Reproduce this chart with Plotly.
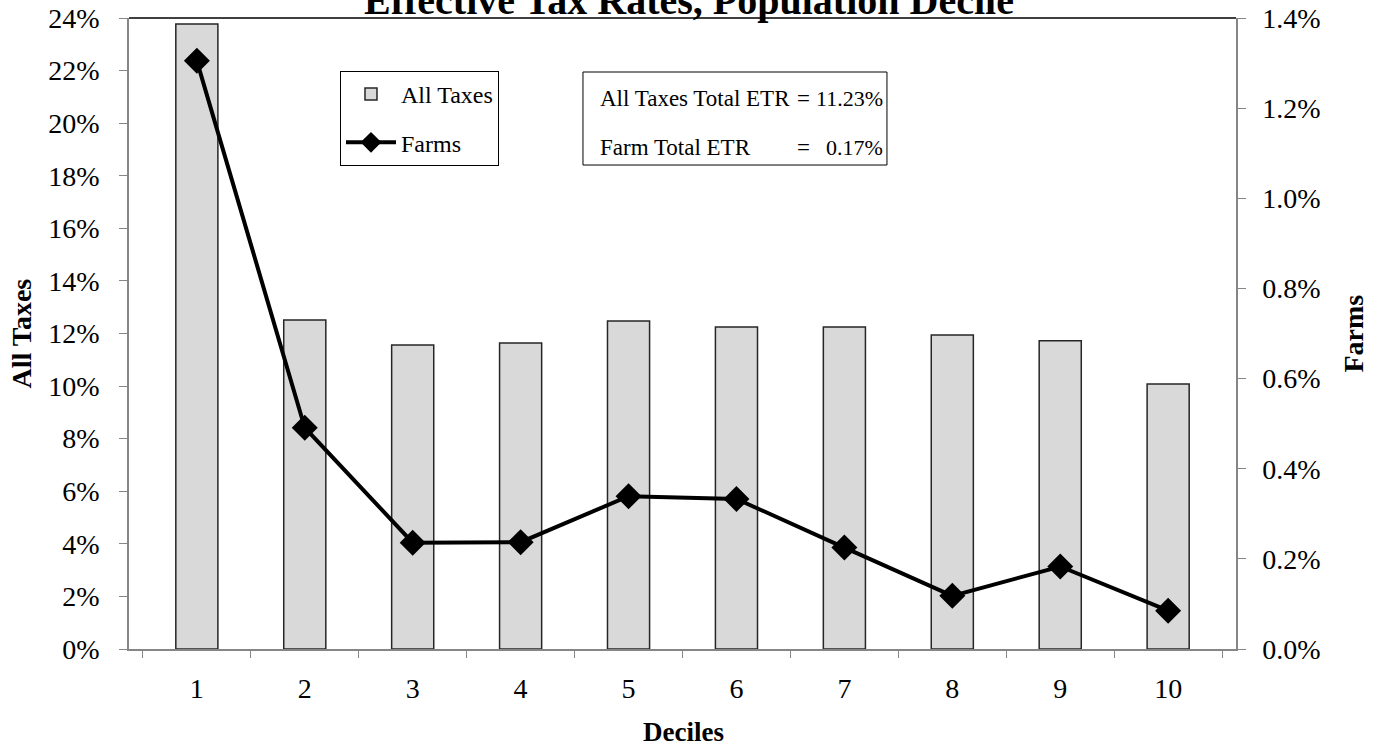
import plotly.graph_objects as go

# data
deciles = ["1", "2", "3", "4", "5", "6", "7", "8", "9", "10"]
all_taxes = [0.2377, 0.1251, 0.1156, 0.1164, 0.1248, 0.1225, 0.1225, 0.1194, 0.1172, 0.1008]
farms = [0.01305, 0.00491, 0.00236, 0.00237, 0.00339, 0.00333, 0.00225, 0.00118, 0.00183, 0.00085]

all_taxes_total = "11.23%"
farm_total = "0.17%"

FONT = "Liberation Serif"
AXIS_GREY = "#868686"

fig = go.Figure()

fig.add_trace(go.Bar(
    x=deciles, y=all_taxes, name="All Taxes", width=0.39,
    marker=dict(color="#d9d9d9", line=dict(color="#262626", width=1.5)),
    legendgroup="a",
))
fig.add_trace(go.Scatter(
    x=deciles, y=farms, name="Farms", yaxis="y2", mode="lines+markers",
    line=dict(color="black", width=4),
    marker=dict(symbol="diamond", size=20, color="black"),
    legendgroup="b",
))

fig.update_layout(
    width=1380, height=749,
    margin=dict(l=129, r=144, t=18, b=100),
    plot_bgcolor="white", paper_bgcolor="white",
    font=dict(family=FONT, size=28, color="black"),
    showlegend=True,
    legend=dict(
        x=0.1906, y=0.916, xanchor="left", yanchor="top",
        bordercolor="black", borderwidth=1, bgcolor="white",
        font=dict(family=FONT, size=24),
        traceorder="grouped", tracegroupgap=14,
        itemwidth=50, entrywidth=135,
    ),
    xaxis=dict(
        type="category", tickson="boundaries", ticks="outside", ticklen=7,
        tickcolor=AXIS_GREY, showline=True, linecolor=AXIS_GREY, linewidth=1.5,
        showgrid=False, ticklabelstandoff=14, automargin=False,
    ),
    yaxis=dict(
        range=[0, 0.24], dtick=0.02, tickformat=".0%", ticks="outside", ticklen=8,
        tickcolor=AXIS_GREY, showline=True, linecolor=AXIS_GREY, linewidth=1.5,
        showgrid=False, zeroline=False, ticklabelstandoff=14, automargin=False,
    ),
    yaxis2=dict(
        range=[0, 0.014], dtick=0.002, tickformat=".1%", ticks="outside", ticklen=8,
        tickcolor=AXIS_GREY, showline=True, linecolor=AXIS_GREY, linewidth=1.5,
        showgrid=False, zeroline=False, overlaying="y", side="right",
        ticklabelstandoff=11, automargin=False,
    ),
)

# top border of the plot area
fig.add_shape(type="line", xref="paper", yref="paper", x0=0, x1=1, y0=1, y1=1,
              line=dict(color="black", width=1.5))

# total ETR text box
fig.add_shape(type="rect", xref="paper", yref="paper",
              x0=0.4101, x1=0.6847, y0=0.767, y1=0.9144,
              line=dict(color="black", width=1), fillcolor="white", layer="above")

rows = [("All Taxes Total ETR", all_taxes_total, 0.8732),
        ("Farm Total ETR", farm_total, 0.794)]
for label, val, yy in rows:
    fig.add_annotation(text=label, x=0.4237, y=yy, xref="paper", yref="paper",
                       xanchor="left", yanchor="middle", showarrow=False,
                       font=dict(family=FONT, size=23))
    fig.add_annotation(text="=", x=0.6089, y=yy, xref="paper", yref="paper",
                       xanchor="center", yanchor="middle", showarrow=False,
                       font=dict(family=FONT, size=23))
    fig.add_annotation(text=val, x=0.6829, y=yy, xref="paper", yref="paper",
                       xanchor="right", yanchor="middle", showarrow=False,
                       font=dict(family=FONT, size=22))

# title (cut off at the top, as in the source)
fig.add_annotation(text="<b>Effective Tax Rates, Population Decile</b>",
                   x=0.5059, y=0.989, xref="paper", yref="paper",
                   xanchor="center", yanchor="bottom", showarrow=False,
                   font=dict(family=FONT, size=40))

# axis titles
fig.add_annotation(text="<b>All Taxes</b>", x=-0.0967, y=0.5, xref="paper", yref="paper",
                   xanchor="center", yanchor="middle",
                   textangle=-90, showarrow=False, font=dict(family=FONT, size=28))
fig.add_annotation(text="<b>Farms</b>", x=1.1057, y=0.5, xref="paper", yref="paper",
                   xanchor="center", yanchor="middle",
                   textangle=-90, showarrow=False, font=dict(family=FONT, size=28))
fig.add_annotation(text="<b>Deciles</b>", x=0.5005, y=-0.1315, xref="paper", yref="paper",
                   xanchor="center", yanchor="middle",
                   showarrow=False, font=dict(family=FONT, size=27))

fig.write_html("out.html", config={"displayModeBar": False},
               post_script="document.body.style.margin='0';")
